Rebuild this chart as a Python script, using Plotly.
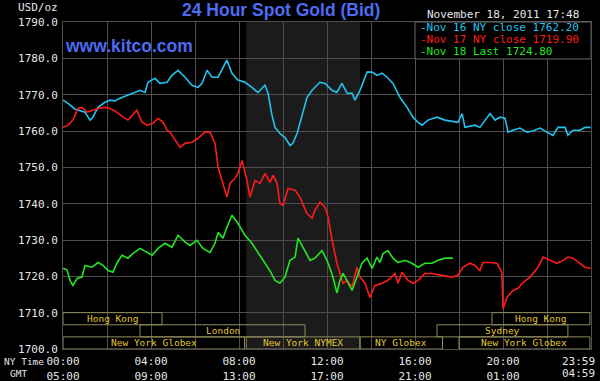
import plotly.graph_objects as go

# ---------------- data ----------------
# hours since 00:00 NY time
nov16_t = [0.00,0.23,0.55,0.77,1.00,1.23,1.36,1.59,1.91,2.14,2.36,2.59,2.91,3.18,3.50,3.73,3.86,4.18,4.41,4.73,
           4.95,5.23,5.55,5.86,6.14,6.32,6.55,6.77,7.05,7.45,7.68,7.95,8.27,8.59,8.86,9.18,9.32,9.50,9.64,9.86,
           10.09,10.32,10.45,10.64,10.86,11.09,11.32,11.68,11.91,12.23,12.45,12.68,12.91,13.14,13.27,13.50,13.82,
           14.05,14.27,14.50,14.73,15.00,15.32,15.64,15.91,16.14,16.32,16.59,17.00,17.36,17.95,18.14,18.27,18.73,
           18.95,19.18,19.41,19.64,19.86,20.09,20.23,20.45,20.77,21.09,21.36,21.68,22.00,22.27,22.50,22.82,22.95,
           23.18,23.50,23.73,23.98]
nov16_v = [1768.5,1767.6,1766.0,1765.7,1765.2,1763.0,1763.8,1766.5,1767.9,1768.5,1768.3,1769.0,1769.8,1770.6,1771.2,
           1770.6,1773.4,1774.5,1773.1,1773.4,1775.3,1776.7,1774.8,1772.6,1772.0,1773.1,1776.7,1774.8,1774.8,1779.5,
           1775.9,1774.0,1773.4,1772.0,1770.6,1772.6,1770.4,1764.3,1761.0,1759.3,1758.2,1756.0,1756.6,1759.3,1763.8,
           1769.2,1771.2,1773.4,1773.1,1771.2,1770.6,1773.1,1770.4,1770.4,1768.5,1771.2,1776.2,1776.2,1775.3,1775.9,
           1774.8,1773.1,1769.2,1766.5,1763.8,1762.4,1761.6,1763.0,1763.8,1763.0,1762.4,1764.8,1761.0,1761.6,1761.0,
           1763.0,1764.8,1763.0,1763.8,1763.5,1759.7,1760.2,1760.8,1759.7,1760.0,1760.8,1759.7,1758.8,1761.0,1761.0,
           1758.8,1760.2,1760.2,1761.0,1761.0]

nov17_t = [0.00,0.23,0.45,0.68,0.86,1.09,1.36,1.59,1.91,2.14,2.45,2.73,2.95,3.14,3.36,3.59,3.82,4.09,4.32,4.55,
           4.73,4.86,5.09,5.32,5.55,5.86,6.14,6.45,6.68,6.91,7.05,7.27,7.45,7.59,7.82,7.95,8.14,8.36,8.50,8.73,
           8.95,9.18,9.41,9.55,9.73,9.86,10.00,10.23,10.55,10.77,11.09,11.32,11.45,11.68,11.91,12.05,12.23,12.45,
           12.59,12.73,12.91,13.14,13.36,13.50,13.73,13.95,14.18,14.50,14.77,15.09,15.23,15.41,15.68,15.91,16.14,
           16.45,16.77,17.23,17.68,17.95,18.18,18.50,18.73,18.95,19.09,19.41,19.73,19.95,20.00,20.18,20.45,20.68,
           20.91,21.23,21.59,21.82,22.14,22.45,22.73,22.95,23.18,23.50,23.73,23.98]
nov17_v = [1761.0,1761.6,1763.0,1766.2,1766.5,1765.2,1765.7,1766.2,1766.5,1766.2,1765.2,1763.8,1763.0,1764.3,1765.7,
           1762.4,1761.6,1762.1,1763.5,1762.4,1760.2,1759.7,1757.5,1755.5,1756.6,1756.9,1758.0,1759.7,1759.7,1756.6,
           1750.0,1745.6,1741.8,1745.6,1747.0,1748.3,1751.9,1746.4,1741.8,1746.4,1745.6,1748.3,1745.9,1747.8,1745.6,
           1740.1,1739.5,1744.2,1743.7,1741.8,1737.3,1736.0,1738.2,1740.4,1739.0,1736.3,1730.0,1723.6,1720.8,1718.1,
           1718.9,1717.0,1722.5,1719.8,1718.1,1714.2,1717.5,1718.1,1718.9,1720.8,1718.1,1721.1,1718.9,1718.1,1718.9,
           1720.8,1720.8,1720.3,1719.8,1720.3,1722.5,1723.6,1723.0,1721.6,1723.8,1723.8,1723.6,1721.1,1711.0,1714.2,
           1716.1,1716.7,1718.3,1719.8,1722.5,1725.3,1724.4,1723.6,1724.4,1725.3,1725.0,1723.6,1722.5,1722.2]

nov18_t = [0.00,0.18,0.32,0.45,0.64,0.86,1.00,1.32,1.59,1.82,2.05,2.27,2.45,2.68,2.95,3.18,3.50,3.82,4.05,4.32,
           4.64,4.95,5.23,5.55,5.77,6.09,6.36,6.68,6.91,7.05,7.27,7.45,7.68,7.95,8.27,8.59,8.86,9.18,9.41,9.64,
           9.86,10.09,10.32,10.55,10.68,10.91,11.23,11.45,11.77,12.00,12.27,12.45,12.59,12.73,12.95,13.14,13.36,
           13.59,13.82,14.05,14.27,14.41,14.55,14.77,15.00,15.23,15.55,15.86,16.14,16.45,16.77,17.05,17.36,17.73]
nov18_v = [1722.2,1721.8,1718.9,1717.5,1719.4,1719.8,1723.0,1722.5,1723.8,1723.0,1721.6,1721.1,1723.6,1725.8,1725.0,
           1726.3,1727.7,1726.6,1725.8,1727.7,1729.1,1728.0,1731.3,1729.4,1728.5,1729.9,1727.7,1726.6,1729.1,1732.1,
           1730.5,1733.5,1736.8,1734.6,1731.3,1729.1,1726.6,1723.6,1721.5,1718.9,1718.1,1719.8,1724.4,1725.3,1730.5,
           1728.0,1724.4,1725.0,1727.1,1724.4,1719.8,1715.4,1718.9,1720.8,1718.1,1716.1,1719.8,1723.6,1725.0,1722.2,
           1725.3,1723.8,1726.3,1727.1,1725.0,1723.8,1724.4,1723.6,1722.5,1723.6,1723.6,1724.4,1725.0,1725.0]

series_names = ["Nov 16 NY close 1762.20", "Nov 17 NY close 1719.90", "Nov 18 Last 1724.80"]
series_colors = ["#22c4ee", "#ff1a1a", "#22e622"]

ny_ticks = [0, 4, 8, 12, 16, 20]
ny_labels = ["00:00", "04:00", "08:00", "12:00", "16:00", "20:00"]
gmt_labels = ["05:00", "09:00", "13:00", "17:00", "21:00", "01:00"]
end_label_ny, end_label_gmt = "23:59", "04:59"

y_ticks = [1700, 1710, 1720, 1730, 1740, 1750, 1760, 1770, 1780, 1790]

# market sessions: name, start hour, end hour, row (0 = top)
sess_names = ["Hong Kong", "London", "New York Globex", "New York NYMEX", "NY Globex",
              "Sydney", "New York Globex", "Hong Kong"]
sess_start = [0.0, 3.5, 0.0, 8.33, 13.5, 17.0, 18.0, 19.5]
sess_end = [4.5, 11.0, 8.25, 13.5, 17.25, 22.95, 23.95, 23.95]
sess_row = [0, 1, 2, 2, 2, 1, 2, 0]

nymex_open, nymex_close = 8.33, 13.5

# ---------------- figure ----------------
W, H = 600, 381
ML, MR, MT, MB = 63, 9, 22, 32
PW, PH = W - ML - MR, H - MT - MB
def px(x):
    return (x - ML) / PW
def py(y):
    return (H - MB - y) / PH

GRID = "#4e4e4e"
MONO = "DejaVu Sans Mono"
TXT = "#e6e6e6"

fig = go.Figure()
for t, v, c, n in zip([nov16_t, nov17_t, nov18_t], [nov16_v, nov17_v, nov18_v], series_colors, series_names):
    fig.add_trace(go.Scatter(x=t, y=v, mode="lines", line=dict(color=c, width=1.6), name=n, hoverinfo="skip"))

shapes = []
# NYMEX floor session shading
shapes.append(dict(type="rect", xref="x", yref="paper", x0=nymex_open, x1=nymex_close, y0=0, y1=1,
                   fillcolor="#1b1b1b", line=dict(width=0), layer="below"))
annotations = []
row_h = (y_ticks[1] - y_ticks[0]) / 3.0
for name, s, e, r in zip(sess_names, sess_start, sess_end, sess_row):
    y1 = y_ticks[1] - r * row_h
    y0 = y1 - row_h
    shapes.append(dict(type="rect", xref="x", yref="y", x0=s, x1=e, y0=y0, y1=y1,
                       line=dict(color="#8f8a5a", width=1), fillcolor="rgba(0,0,0,0)", layer="between"))
    annotations.append(dict(xref="x", yref="y", x=(s + e) / 2, y=(y0 + y1) / 2, text=name, showarrow=False,
                            font=dict(family=MONO, size=9.5, color="#e2c832"), xanchor="center", yanchor="middle"))

# legend box
shapes.append(dict(type="rect", xref="x", yref="paper", x0=16, x1=24, y0=py(59), y1=1,
                   fillcolor="black", line=dict(color="#6a6a6a", width=1), layer="above"))
for i, (n, c) in enumerate(zip(series_names, series_colors)):
    annotations.append(dict(xref="paper", yref="paper", x=px(418), y=py(27.5 + 12 * i), text="-" + n,
                            showarrow=False, xanchor="left", yanchor="middle",
                            font=dict(family=MONO, size=11, color=c)))

annotations += [
    dict(xref="paper", yref="paper", x=px(281), y=py(10.5), text="<b>24 Hour Spot Gold (Bid)</b>",
         showarrow=False, xanchor="center", yanchor="middle",
         font=dict(family="Liberation Sans", size=17.5, color="#4d6cf2")),
    dict(xref="paper", yref="paper", x=px(63), y=py(46.5), text="<b>www.kitco.com</b>",
         showarrow=False, xanchor="left", yanchor="middle",
         font=dict(family="Liberation Sans", size=17.5, color="#4d6cf2")),
    dict(xref="paper", yref="paper", x=px(60), y=py(8), text="USD/oz", showarrow=False,
         xanchor="right", yanchor="middle", font=dict(family=MONO, size=11, color=TXT)),
    dict(xref="paper", yref="paper", x=px(425), y=py(14), text="November 18, 2011 17:48", showarrow=False,
         xanchor="left", yanchor="middle", font=dict(family=MONO, size=11, color=TXT)),
    dict(xref="paper", yref="paper", x=px(46), y=py(362), text="NY Time", showarrow=False,
         xanchor="right", yanchor="middle", font=dict(family=MONO, size=9.5, color=TXT)),
    dict(xref="paper", yref="paper", x=px(8), y=py(374), text="GMT", showarrow=False,
         xanchor="left", yanchor="middle", font=dict(family=MONO, size=9.5, color=TXT)),
    dict(xref="x", yref="paper", x=24, y=py(362), text=end_label_ny, showarrow=False, xshift=6,
         xanchor="right", yanchor="middle", font=dict(family=MONO, size=11, color=TXT)),
    dict(xref="x", yref="paper", x=24, y=py(374), text=end_label_gmt, showarrow=False, xshift=6,
         xanchor="right", yanchor="middle", font=dict(family=MONO, size=11, color=TXT)),
]

fig.update_layout(
    width=W, height=H, margin=dict(l=ML, r=MR, t=MT, b=MB, autoexpand=False),
    paper_bgcolor="black", plot_bgcolor="black", showlegend=False,
    shapes=shapes, annotations=annotations,
    xaxis=dict(range=[0, 24], tickmode="array", tickvals=ny_ticks,
               ticktext=[a + "<br>" + b for a, b in zip(ny_labels, gmt_labels)],
               showgrid=True, gridcolor=GRID, gridwidth=1, zeroline=False, automargin=False,
               showline=True, linecolor=GRID, mirror=True, ticks="", ticklabelstandoff=2,
               tickfont=dict(family=MONO, size=11, color=TXT),
               minor=dict(dtick=2, tick0=0, showgrid=True, gridcolor=GRID, gridwidth=1)),
    yaxis=dict(range=[1700, 1790], tickmode="array", tickvals=y_ticks, tickformat=".1f",
               showgrid=True, gridcolor=GRID, gridwidth=1, zeroline=False, automargin=False,
               showline=True, linecolor=GRID, mirror=True, ticks="", ticklabelstandoff=2,
               tickfont=dict(family=MONO, size=11, color=TXT)),
)

fig.write_html("out.html", config={"displayModeBar": False, "staticPlot": True},
               post_script="document.body.style.margin='0';document.body.style.overflow='hidden';"
                           "document.documentElement.style.overflow='hidden';")
